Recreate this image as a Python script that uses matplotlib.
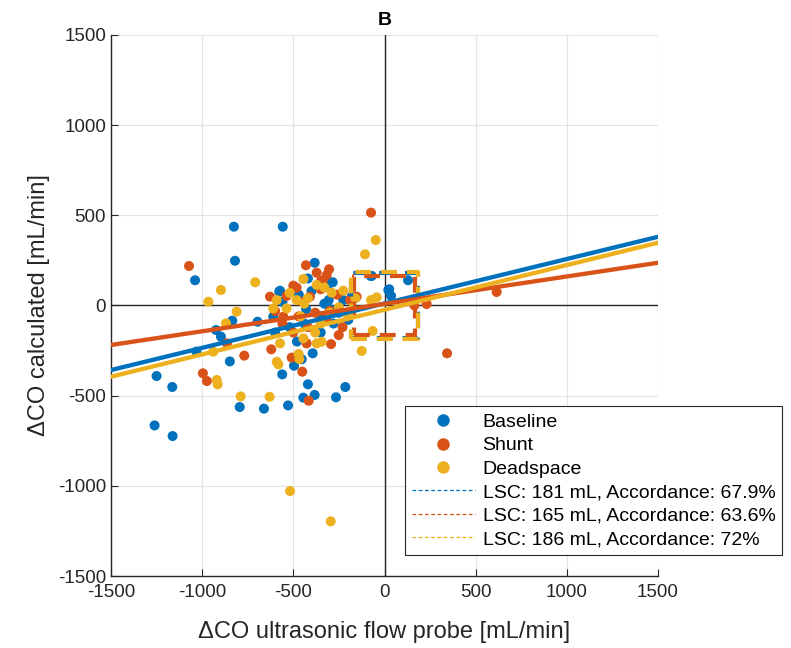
import numpy as np
import matplotlib.pyplot as plt
from matplotlib.lines import Line2D

plt.rcParams['font.family'] = ['Liberation Sans', 'DejaVu Sans']
plt.rcParams['axes.unicode_minus'] = False

# MATLAB default colours
c_base = '#0072BD'
c_shunt = '#D95319'
c_dead = '#EDB120'

# ---- data ----
base_x = [-826, -558, -820, -1039, -383, -1250, -1164, -1261, -1162, -848, -897, -924,
          -835, -696, -1032, -561, -496, -454, -394, -420, -383, -445, -529, -661, -794,
          -266, -215, -573, -610, -303, -306, -226, -76, 21, 129, 26, 36, -70, -284, -577,
          -470, -430, -350, -280, -520, -400, -330, -250, -180, -600, -480, -350, -560,
          -300, -200, -420, -440]
base_y = [437, 437, 248, 140, 237, -391, -452, -665, -724, -310, -173, -136,
          -84, -90, -256, -382, -334, -298, -265, -437, -496, -511, -554, -572, -563,
          -509, -452, 82, -62, 123, 30, 30, 164, 86, 140, 90, 53, 164, 129, 77,
          60, -20, -60, -100, -120, 80, 10, -40, 50, -150, -200, -150, 20,
          -20, -80, 150, -100]

shunt_x = [-74, -1072, -769, -996, -974, -451, -509, -416, -864, -431, -372, -304,
           -348, -628, -537, -621, -293, -251, -482, -409, -555, -427, -189, -153,
           615, 343, 231, 164, -317, -500, -339,
           -450, -380, -320, -500, -420, -260, -350, -560, -470, -300, -230, -600]
shunt_y = [515, 219, -278, -376, -419, -367, -289, -528, -210, 223, 182, 201,
           136, 49, 53, -243, -214, -164, 99, 49, -62, -210, 30, 49,
           75, -265, 8, 1, 169, 110, 138,
           20, -40, -80, -150, -120, 60, 90, -100, -60, -30, -120, -30]

dead_x = [-48, -107, -709, -897, -966, -811, -869, -939, -920, -915, -789, -630,
          -471, -467, -591, -582, -125, -65, -445, -372, -290, -226, -74, -43,
          -372, -345, -445, -573, -591, -610, -537, -482, -518, -295,
          -420, -350, -300, -250, -460, -520, -380, -200, -160, -330, -440]
dead_y = [363, 284, 129, 86, 21, -34, -99, -256, -413, -437, -504, -506,
          -269, -297, -312, -326, -252, -141, 147, 114, 71, 82, 30, 45,
          -210, -201, -182, -210, 30, -16, -16, 30, -1029, -1197,
          40, -100, -40, -10, -60, 70, -150, -60, 40, 100, 10]

# regression fits (slope, intercept) and limits of small change
fits = {'base': (0.2463, 11.5), 'shunt': (0.152, 9.0), 'dead': (0.2477, -23.5)}
lsc = {'base': 181, 'shunt': 165, 'dead': 186}
accord = {'base': '67.9%', 'shunt': '63.6%', 'dead': '72%'}

fig = plt.figure(figsize=(7.91, 6.48), dpi=100)
ax = fig.add_axes([0.1403, 0.1111, 0.6916, 0.8349])

ax.scatter(base_x, base_y, s=52, color=c_base, edgecolors='none', zorder=3)
ax.scatter(shunt_x, shunt_y, s=52, color=c_shunt, edgecolors='none', zorder=3)
ax.scatter(dead_x, dead_y, s=52, color=c_dead, edgecolors='none', zorder=3)

xx = np.array([-1500, 1500])
for key, col in [('base', c_base), ('shunt', c_shunt), ('dead', c_dead)]:
    L = lsc[key]
    ax.plot([-L, L, L, -L, -L], [-L, -L, L, L, -L], color=col, lw=3,
            linestyle=(0, (3.8, 2.4)), zorder=4)
for key, col in [('base', c_base), ('shunt', c_shunt), ('dead', c_dead)]:
    m, b = fits[key]
    ax.plot(xx, m * xx + b, color=col, lw=3.1, zorder=5)

ax.axhline(0, color='#262626', lw=1, zorder=2)
ax.axvline(0, color='#262626', lw=1, zorder=2)

ax.set_xlim(-1500, 1500)
ax.set_ylim(-1500, 1500)
ticks = [-1500, -1000, -500, 0, 500, 1000, 1500]
ax.set_xticks(ticks)
ax.set_yticks(ticks)
ax.tick_params(direction='in', length=5, labelsize=13.5, color='#262626', labelcolor='#262626')
ax.tick_params(axis='x', pad=6)
ax.grid(True, color='#e3e3e3', lw=0.8, zorder=0)
ax.set_axisbelow(True)
for s in ['top', 'right']:
    ax.spines[s].set_visible(False)
for s in ['left', 'bottom']:
    ax.spines[s].set_color('#262626')
    ax.spines[s].set_linewidth(1)

ax.set_xlabel('ΔCO ultrasonic flow probe [mL/min]', fontsize=17, color='#262626', labelpad=14)
ax.set_ylabel('ΔCO calculated [mL/min]', fontsize=17, color='#262626', labelpad=6)
ax.set_title('B', fontsize=14, fontweight='bold', pad=7)

handles = [
    Line2D([0], [0], marker='o', color='none', markerfacecolor=c_base, markeredgecolor='none', markersize=9),
    Line2D([0], [0], marker='o', color='none', markerfacecolor=c_shunt, markeredgecolor='none', markersize=9),
    Line2D([0], [0], marker='o', color='none', markerfacecolor=c_dead, markeredgecolor='none', markersize=9),
    Line2D([0], [0], color=c_base, lw=0.9, linestyle=(0, (3, 2))),
    Line2D([0], [0], color=c_shunt, lw=0.9, linestyle=(0, (3, 2))),
    Line2D([0], [0], color=c_dead, lw=0.9, linestyle=(0, (3, 2))),
]
labels = ['Baseline', 'Shunt', 'Deadspace',
          'LSC: %d mL, Accordance: %s' % (lsc['base'], accord['base']),
          'LSC: %d mL, Accordance: %s' % (lsc['shunt'], accord['shunt']),
          'LSC: %d mL, Accordance: %s' % (lsc['dead'], accord['dead'])]
leg = ax.legend(handles, labels, loc='lower left', bbox_to_anchor=(0.537, 0.039),
                fontsize=14, handlelength=3.25, handletextpad=0.4, labelspacing=0.3,
                fancybox=False, framealpha=1, edgecolor='#262626', borderpad=0.35,
                borderaxespad=0)
leg.get_frame().set_linewidth(0.8)
leg.set_zorder(10)

fig.savefig('out.png', dpi=100)
